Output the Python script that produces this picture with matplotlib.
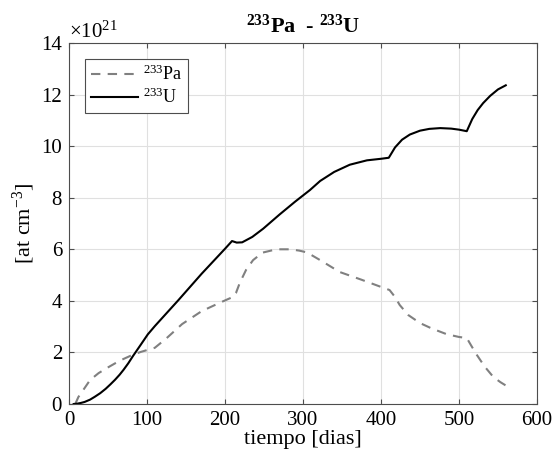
import matplotlib
matplotlib.use("Agg")
import matplotlib.pyplot as plt

plt.rcParams["font.family"] = ["Liberation Serif", "DejaVu Serif"]
plt.rcParams["mathtext.fontset"] = "custom"
plt.rcParams["mathtext.rm"] = "Liberation Serif"
plt.rcParams["mathtext.it"] = "Liberation Serif:italic"
plt.rcParams["mathtext.bf"] = "Liberation Serif:bold"

# 233U (x 1e21 at/cm3)
dias_u = [6, 10, 15, 20, 27, 33, 40, 47, 53, 59, 65, 70, 76, 82, 92, 101, 110, 140,
          170, 200, 209, 215, 222, 235, 249, 270, 290, 309, 322, 340, 360, 382, 400,
          410, 418, 427, 437, 450, 462, 476, 490, 500, 510, 517, 524, 531, 540, 550, 560]
u233 = [0.0, 0.01, 0.04, 0.08, 0.17, 0.28, 0.42, 0.59, 0.76, 0.94, 1.14, 1.33, 1.58,
        1.86, 2.3, 2.7, 3.02, 4.02, 5.05, 6.02, 6.32, 6.26, 6.27, 6.48, 6.8, 7.35,
        7.85, 8.3, 8.65, 9.0, 9.28, 9.45, 9.51, 9.55, 9.95, 10.25, 10.45, 10.6,
        10.67, 10.7, 10.68, 10.64, 10.58, 11.05, 11.4, 11.67, 11.95, 12.2, 12.36]

# 233Pa (x 1e21 at/cm3)
dias_pa = [8, 12, 20, 27, 38, 50, 65, 81, 92, 101, 110, 125, 145, 170, 195, 210, 214,
           219, 227, 236, 248, 266, 283, 295, 305, 322, 347, 375, 401, 411, 418, 424,
           435, 450, 465, 484, 500, 510, 516, 523, 533, 544, 553, 561]
pa233 = [0.0, 0.27, 0.62, 0.93, 1.2, 1.42, 1.68, 1.9, 2.02, 2.1, 2.18, 2.55, 3.1,
         3.6, 3.95, 4.15, 4.3, 4.7, 5.2, 5.58, 5.87, 6.0, 6.0, 5.95, 5.88, 5.58, 5.12,
         4.82, 4.53, 4.42, 4.15, 3.84, 3.45, 3.14, 2.93, 2.71, 2.6, 2.56, 2.25, 1.9,
         1.45, 1.05, 0.85, 0.7]

fig = plt.figure(figsize=(5.53, 4.59), dpi=100)
ax = fig.add_axes([0.1248, 0.1198, 0.8462, 0.7865])

ax.plot(dias_pa, pa233, "--", dashes=(4.5, 3.5), color=(0.5, 0.5, 0.5), lw=1.5,
        label=r"$^{233}$Pa")
ax.plot(dias_u, u233, "-", color="black", lw=1.5, label=r"$^{233}$U")

ax.set_xlim(0, 600)
ax.set_ylim(0, 14)
ax.set_xticks(range(0, 601, 100))
ax.set_yticks(range(0, 15, 2))
ax.grid(True, color=(0.88, 0.88, 0.88), lw=0.8)
ax.set_axisbelow(True)
ax.tick_params(direction="in", top=True, right=True, labelsize=15, color=(0.3, 0.3, 0.3),
               pad=5)
for s in ax.spines.values():
    s.set_color((0.3, 0.3, 0.3))

ax.set_xlabel("tiempo [dias]", fontsize=16, labelpad=0)
ax.set_ylabel(r"[at cm$^{-3}$]", fontsize=16, labelpad=3)
ax.set_title(r"$\mathbf{^{233}}$Pa  - $\mathbf{^{233}}$U", fontsize=16,
             fontweight="bold", pad=7)
ax.text(0.0, 1.0, r"$\times10^{21}$", transform=ax.transAxes, fontsize=15,
        ha="left", va="bottom")

leg = ax.legend(loc="upper left", fontsize=13, fancybox=False, framealpha=1,
                edgecolor=(0.3, 0.3, 0.3), handlelength=2.6, handletextpad=0.3,
                borderaxespad=0.9, labelspacing=0.2, borderpad=0.3)
leg.get_frame().set_linewidth(0.8)

fig.savefig("out.png", dpi=100)
